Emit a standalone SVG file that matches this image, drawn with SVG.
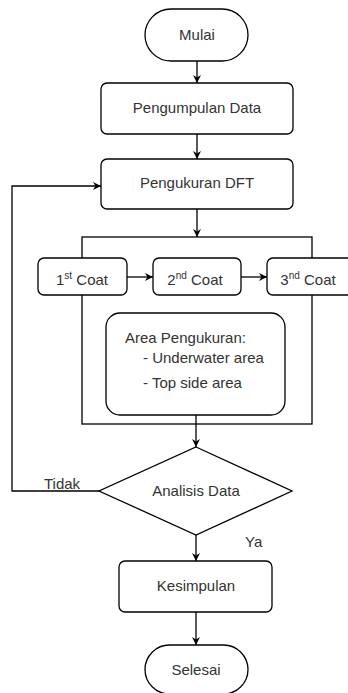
<svg xmlns="http://www.w3.org/2000/svg" width="348" height="693" viewBox="0 0 348 693">
  <defs>
    <marker id="arrow" viewBox="0 0 10 10" refX="10" refY="5" markerWidth="8" markerHeight="8" markerUnits="userSpaceOnUse" orient="auto">
      <path d="M0,0 L10,5 L0,10 L3,5 Z" fill="#000"/>
    </marker>
  </defs>
  <style>
    .shape { fill: #fff; stroke: #000; stroke-width: 1.3; }
    .frame { fill: none; stroke: #000; stroke-width: 1.3; }
    .edge { fill: none; stroke: #000; stroke-width: 1.3; marker-end: url(#arrow); }
    .line { fill: none; stroke: #000; stroke-width: 1.3; }
    text { font-family: "Liberation Sans", Arial, sans-serif; font-size: 15px; fill: #333; }
    .c { text-anchor: middle; }
    .sup { font-size: 10px; }
  </style>
  <rect width="348" height="693" fill="#fff"/>

  <!-- measurement stage frame -->
  <g id="stage">
    <rect class="frame" x="82" y="237" width="230" height="187"/>
  </g>

  <!-- connectors -->
  <g id="connectors">
    <line class="edge" x1="197" y1="61" x2="197" y2="83"/>
    <line class="edge" x1="197" y1="134" x2="197" y2="159"/>
    <line class="edge" x1="197" y1="209" x2="197" y2="237"/>
    <line class="edge" x1="127" y1="277" x2="153" y2="277"/>
    <line class="edge" x1="241" y1="277" x2="267" y2="277"/>
    <line class="edge" x1="196" y1="415" x2="196" y2="447"/>
    <polyline class="edge" points="99,491 12,491 12,186 101,186"/>
    <line class="edge" x1="196" y1="535" x2="196" y2="561"/>
    <line class="edge" x1="196" y1="612" x2="196" y2="645"/>
  </g>

  <g id="mulai">
    <rect class="shape" x="145" y="9" width="103" height="52" rx="26" ry="26"/>
    <text class="c" x="197" y="40">Mulai</text>
  </g>

  <g id="pengumpulan">
    <rect class="shape" x="101" y="83" width="192" height="51" rx="6"/>
    <text class="c" x="197" y="113">Pengumpulan Data</text>
  </g>

  <g id="pengukuran">
    <rect class="shape" x="101" y="159" width="192" height="50" rx="6"/>
    <text class="c" x="197" y="188">Pengukuran DFT</text>
  </g>

  <g id="coat1">
    <rect class="shape" x="38" y="258" width="89" height="37" rx="6"/>
    <text class="c" x="82" y="285">1<tspan class="sup" dy="-6">st</tspan><tspan dy="6"> Coat</tspan></text>
  </g>

  <g id="coat2">
    <rect class="shape" x="153" y="258" width="88" height="37" rx="6"/>
    <text class="c" x="195" y="285">2<tspan class="sup" dy="-6">nd</tspan><tspan dy="6"> Coat</tspan></text>
  </g>

  <g id="coat3">
    <rect class="shape" x="267" y="258" width="88" height="37" rx="6"/>
    <text class="c" x="308" y="285">3<tspan class="sup" dy="-6">nd</tspan><tspan dy="6"> Coat</tspan></text>
  </g>

  <g id="area">
    <rect class="shape" x="106" y="313" width="179" height="102" rx="14"/>
    <text x="125" y="343">Area Pengukuran:</text>
    <text x="143" y="363">- Underwater area</text>
    <text x="143" y="388">- Top side area</text>
  </g>

  <g id="analisis">
    <polygon class="shape" points="196,447 292,491 196,535 99,491"/>
    <text class="c" x="196" y="496">Analisis Data</text>
  </g>

  <g id="labels">
    <text x="44" y="489">Tidak</text>
    <text x="245" y="547">Ya</text>
  </g>

  <g id="kesimpulan">
    <rect class="shape" x="119" y="561" width="153" height="51" rx="6"/>
    <text class="c" x="196" y="591">Kesimpulan</text>
  </g>

  <g id="selesai">
    <rect class="shape" x="145" y="645" width="103" height="49" rx="24.5" ry="24.5"/>
    <text class="c" x="196" y="675">Selesai</text>
  </g>
</svg>
